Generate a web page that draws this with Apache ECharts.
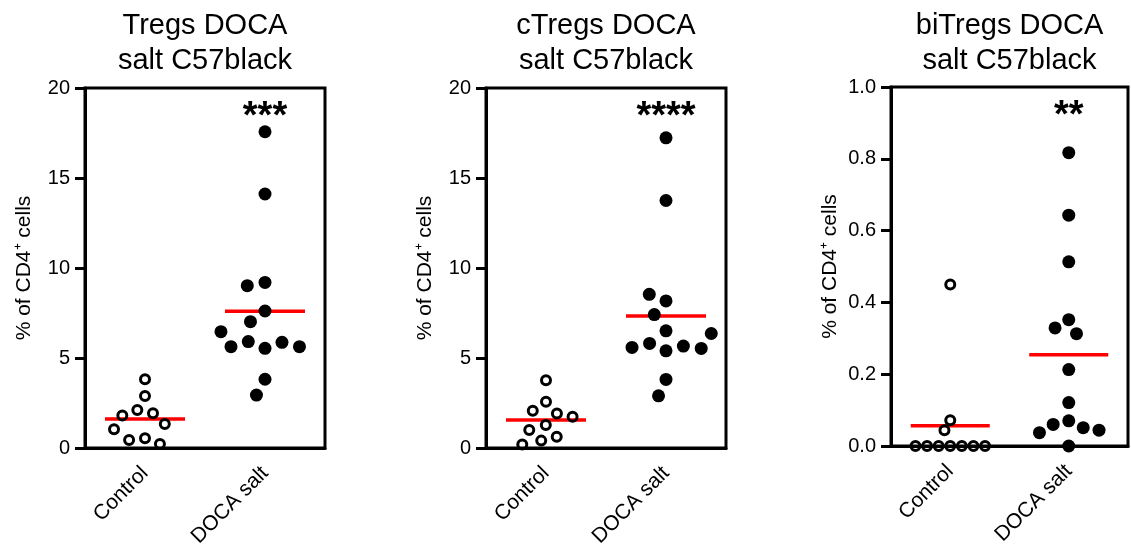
<!DOCTYPE html>
<html><head><meta charset="utf-8">
<script src="https://cdn.jsdelivr.net/npm/echarts@6/dist/echarts.min.js"></script>
<style>html,body{margin:0;padding:0;background:#fff}#c{width:1131px;height:554px}</style>
</head><body><div id="c"></div>
<script>
// ---- data ----
const categories = ['Control', 'DOCA salt'];
const titles = ['Tregs DOCA\nsalt C57black', 'cTregs DOCA\nsalt C57black', 'biTregs DOCA\nsalt C57black'];
const yAxisName = '% of CD4\u207A cells';
const significance = ['***', '****', '**'];
const yMax = [20, 20, 1];
const yInterval = [5, 5, 0.2];
const yDecimals = [0, 0, 1];

const tregsControl = [3.82, 2.89, 2.11, 1.93, 1.80, 1.33, 0.54, 0.44, 1.04, 0.22];
const tregsDoca = [17.57, 14.11, 9.20, 9.02, 7.61, 5.54, 3.82, 2.94, 5.91, 5.87, 5.63, 5.63, 7.02, 6.46];
const cTregsControl = [3.77, 2.57, 2.07, 1.92, 1.74, 1.28, 0.63, 0.41, 1.00, 0.20];
const cTregsDoca = [17.23, 13.75, 8.17, 7.41, 5.40, 3.81, 2.90, 8.54, 5.81, 5.66, 5.59, 5.53, 6.51, 6.36];
const biTregsControl = [0.45, 0.072, 0.044, 0, 0, 0, 0, 0, 0, 0];
const biTregsDoca = [0.817, 0.643, 0.513, 0.352, 0.329, 0.313, 0.213, 0.121, 0.070, 0.060, 0.051, 0.044, 0.037, 0];

// ---- layout ----
const FONT = "'Liberation Sans', Arial, Helvetica, sans-serif";
const panels = [
  { ctrl: tregsControl, doca: tregsDoca, grid: { left: 85, top: 88, width: 240, height: 360 }, ctrlMargin: 7, docaMargin: 5 },
  { ctrl: cTregsControl, doca: cTregsDoca, grid: { left: 486, top: 88, width: 240, height: 360 }, ctrlMargin: 7, docaMargin: 5 },
  { ctrl: biTregsControl, doca: biTregsDoca, grid: { left: 891, top: 87, width: 237, height: 359 }, ctrlMargin: 2.6, docaMargin: 3 }
];
const mean = a => a.reduce((s, v) => s + v, 0) / a.length;

const option = { animation: false, title: [], grid: [], xAxis: [], yAxis: [], series: [] };

panels.forEach((p, i) => {
  option.title.push({
    text: titles[i], left: p.grid.left + p.grid.width / 2, top: 8, textAlign: 'center', padding: 0,
    textStyle: { fontFamily: FONT, fontSize: 29, fontWeight: 'normal', color: '#000', lineHeight: 35 }
  });
  option.grid.push(Object.assign({ show: true, borderColor: '#000', borderWidth: 3, backgroundColor: 'transparent' }, p.grid));
  const xBase = {
    type: 'category', gridIndex: i, data: categories, jitter: 120, jitterOverlap: false,
    axisLine: { lineStyle: { color: '#000', width: 3 } },
    axisTick: { alignWithLabel: true, length: 10, lineStyle: { color: '#000', width: 3 } },
    axisLabel: { rotate: 45, fontFamily: FONT, fontSize: 21, color: '#000', margin: 22 },
    splitLine: { show: false }
  };
  option.xAxis.push(Object.assign({}, xBase, { jitterMargin: p.ctrlMargin }));
  option.xAxis.push(Object.assign({}, xBase, { jitterMargin: p.docaMargin, show: false }));
  option.yAxis.push({
    type: 'value', gridIndex: i, min: 0, max: yMax[i], interval: yInterval[i],
    name: yAxisName, nameLocation: 'middle', nameGap: 50,
    nameTextStyle: { fontFamily: FONT, fontSize: 21, color: '#000' },
    axisLine: { show: true, lineStyle: { color: '#000', width: 3 } },
    axisTick: { show: true, length: 10, lineStyle: { color: '#000', width: 3 } },
    axisLabel: { fontFamily: FONT, fontSize: 20, color: '#000', margin: 15, formatter: v => v.toFixed(yDecimals[i]) },
    splitLine: { show: false }
  });
  // mean lines
  option.series.push({
    type: 'custom', xAxisIndex: 2 * i, yAxisIndex: i, z: 1, silent: true,
    data: [[0, mean(p.ctrl)], [1, mean(p.doca)]],
    renderItem: (params, api) => {
      const c = api.coord([api.value(0), api.value(1)]);
      const bw = api.size([1, 0])[0];
      return { type: 'line', shape: { x1: c[0] - bw / 3, y1: c[1], x2: c[0] + bw / 3, y2: c[1] },
        style: { stroke: '#ff0000', lineWidth: 3.5 } };
    }
  });
  // control: open circles
  option.series.push({
    type: 'scatter', xAxisIndex: 2 * i, yAxisIndex: i, z: 3, clip: false, silent: true,
    symbol: 'circle', symbolSize: 9,
    itemStyle: { color: 'rgba(0,0,0,0)', borderColor: '#000', borderWidth: 3, opacity: 1 },
    data: p.ctrl.map(v => [0, v])
  });
  // DOCA salt: filled dots
  option.series.push({
    type: 'scatter', xAxisIndex: 2 * i + 1, yAxisIndex: i, z: 3, clip: false, silent: true,
    symbol: 'circle', symbolSize: 13, itemStyle: { color: '#000', opacity: 1 },
    data: p.doca.map(v => [1, v])
  });
  // significance stars
  option.series.push({
    type: 'custom', xAxisIndex: 2 * i, yAxisIndex: i, z: 4, silent: true,
    data: [[1, yMax[i] * 0.918]],
    renderItem: (params, api) => {
      const c = api.coord([api.value(0), api.value(1)]);
      return { type: 'text', x: c[0], y: c[1],
        style: { text: significance[i], fill: '#000', fontFamily: FONT, fontSize: 38, fontWeight: 'bold', align: 'center', verticalAlign: 'middle' } };
    }
  });
});

const chart = echarts.init(document.getElementById('c'), null, { renderer: 'canvas' });
chart.setOption(option);
</script>
</body></html>
